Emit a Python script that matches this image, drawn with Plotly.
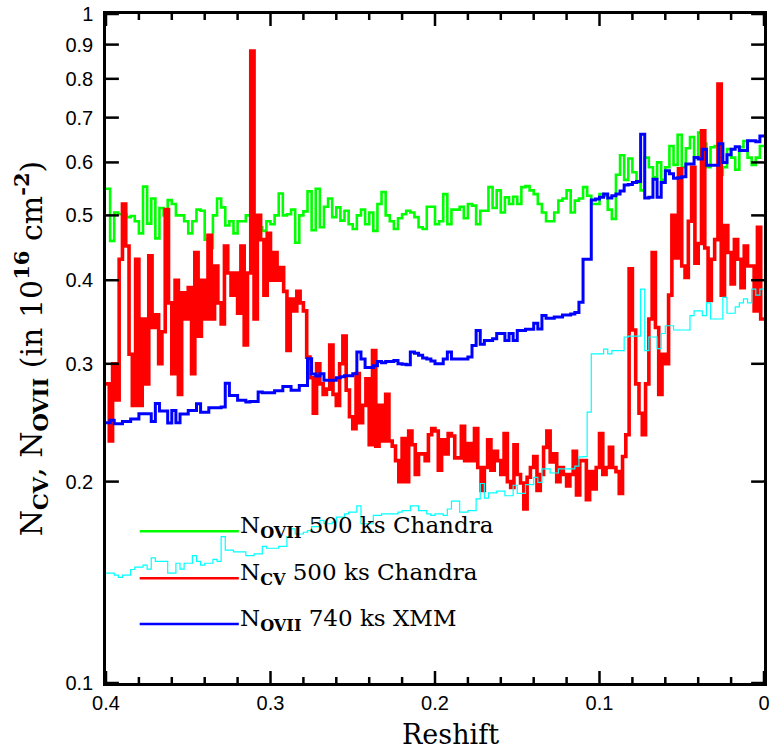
import math
import plotly.graph_objects as go

# ---------------- data (redshift bins run from z = 0.4 down to z = 0) ----------------
Z_START = 0.4
WIDTH_FINE = 0.002     # bin width of the N_CV Chandra series
WIDTH_STD = 0.0025     # bin width of the other series

# N_OVII, 500 ks Chandra (green)
n_ovii_chandra = [
    0.548, 0.458, 0.505, 0.502, 0.502, 0.497, 0.499, 0.49, 0.47, 0.552,
    0.486, 0.53, 0.462, 0.513, 0.50, 0.527, 0.52, 0.50, 0.50, 0.49,
    0.47, 0.49, 0.51, 0.508, 0.46, 0.447, 0.50, 0.53, 0.514, 0.483,
    0.49, 0.47, 0.49, 0.49, 0.50, 0.50, 0.48, 0.48, 0.474, 0.49,
    0.485, 0.50, 0.539, 0.50, 0.502, 0.51, 0.455, 0.50, 0.507, 0.543,
    0.475, 0.548, 0.48, 0.515, 0.53, 0.497, 0.514, 0.491, 0.508, 0.485,
    0.477, 0.50, 0.51, 0.485, 0.505, 0.474, 0.52, 0.542, 0.50, 0.49,
    0.477, 0.495, 0.502, 0.508, 0.505, 0.497, 0.48, 0.477, 0.515, 0.515,
    0.485, 0.49, 0.538, 0.485, 0.51, 0.51, 0.515, 0.495, 0.52, 0.517,
    0.485, 0.508, 0.508, 0.551, 0.513, 0.545, 0.505, 0.532, 0.52, 0.533,
    0.52, 0.551, 0.553, 0.545, 0.538, 0.52, 0.505, 0.49, 0.49, 0.505,
    0.526, 0.53, 0.545, 0.505, 0.526, 0.53, 0.551, 0.535, 0.52, 0.52,
    0.538, 0.535, 0.51, 0.494, 0.575, 0.615, 0.565, 0.608, 0.58, 0.56,
    0.545, 0.61, 0.59, 0.57, 0.60, 0.565, 0.59, 0.635, 0.595, 0.66,
    0.59, 0.63, 0.655, 0.61, 0.665, 0.64, 0.59, 0.632, 0.635, 0.575,
    0.59, 0.628, 0.61, 0.585, 0.632, 0.646, 0.61, 0.595, 0.61, 0.635,
]

# N_CV, 500 ks Chandra (red)
n_cv_chandra = [
    0.28, 0.23, 0.30, 0.265, 0.43, 0.52, 0.45, 0.31, 0.26, 0.43,
    0.26, 0.35, 0.28, 0.435, 0.34, 0.355, 0.30, 0.335, 0.51, 0.37,
    0.29, 0.40, 0.27, 0.383, 0.35, 0.39, 0.29, 0.44, 0.33, 0.40,
    0.35, 0.467, 0.35, 0.42, 0.37, 0.344, 0.45, 0.41, 0.38, 0.41,
    0.357, 0.45, 0.32, 0.41, 0.88, 0.35, 0.50, 0.46, 0.38, 0.47,
    0.40, 0.44, 0.40, 0.418, 0.385, 0.314, 0.375, 0.36, 0.385, 0.37,
    0.36, 0.307, 0.286, 0.253, 0.30, 0.28, 0.27, 0.275, 0.32, 0.27,
    0.26, 0.30, 0.33, 0.274, 0.25, 0.24, 0.29, 0.245, 0.26, 0.285,
    0.227, 0.314, 0.226, 0.26, 0.23, 0.27, 0.23, 0.226, 0.215, 0.20,
    0.232, 0.20, 0.238, 0.227, 0.205, 0.22, 0.22, 0.215, 0.235, 0.24,
    0.238, 0.208, 0.231, 0.22, 0.236, 0.234, 0.217, 0.217, 0.242, 0.215,
    0.228, 0.215, 0.24, 0.21, 0.194, 0.21, 0.231, 0.208, 0.222, 0.215,
    0.205, 0.236, 0.20, 0.196, 0.227, 0.205, 0.199, 0.182, 0.203, 0.21,
    0.218, 0.194, 0.205, 0.225, 0.238, 0.214, 0.22, 0.20, 0.21, 0.205,
    0.197, 0.205, 0.222, 0.191, 0.215, 0.215, 0.188, 0.207, 0.195, 0.21,
    0.236, 0.205, 0.21, 0.225, 0.21, 0.207, 0.192, 0.218, 0.235, 0.416,
    0.337, 0.28, 0.253, 0.235, 0.28, 0.35, 0.44, 0.34, 0.27, 0.31,
    0.30, 0.38, 0.50, 0.432, 0.587, 0.42, 0.404, 0.49, 0.59, 0.424,
    0.454, 0.669, 0.447, 0.373, 0.43, 0.46, 0.786, 0.38, 0.483, 0.44,
    0.395, 0.46, 0.43, 0.39, 0.45, 0.42, 0.42, 0.36, 0.48, 0.35,
]

# N_OVII, 740 ks XMM (blue)
n_ovii_xmm = [
    0.245, 0.247, 0.244, 0.244, 0.246, 0.246, 0.248, 0.248, 0.2526, 0.2526,
    0.2526, 0.246, 0.2616, 0.255, 0.255, 0.2446, 0.2555, 0.245, 0.2525, 0.2525,
    0.2555, 0.2555, 0.2615, 0.254, 0.254, 0.258, 0.258, 0.258, 0.2585, 0.2807,
    0.269, 0.269, 0.2647, 0.2647, 0.263, 0.2635, 0.2635, 0.2722, 0.2715, 0.2715,
    0.2715, 0.2735, 0.2735, 0.2775, 0.2775, 0.274, 0.274, 0.2785, 0.2785, 0.3052,
    0.2896, 0.2876, 0.29, 0.2834, 0.2834, 0.2834, 0.286, 0.287, 0.288, 0.288,
    0.29, 0.3124, 0.305, 0.2963, 0.2963, 0.298, 0.3024, 0.301, 0.3024, 0.3024,
    0.3035, 0.300, 0.2995, 0.299, 0.3124, 0.311, 0.309, 0.306, 0.3051, 0.303,
    0.300, 0.300, 0.305, 0.3124, 0.3051, 0.3051, 0.3051, 0.3051, 0.307, 0.3196,
    0.3365, 0.321, 0.325, 0.325, 0.327, 0.333, 0.333, 0.325, 0.333, 0.325,
    0.3365, 0.3365, 0.338, 0.338, 0.3448, 0.3383, 0.3544, 0.351, 0.351, 0.3525,
    0.3525, 0.355, 0.355, 0.356, 0.358, 0.3708, 0.43, 0.43, 0.527, 0.529,
    0.532, 0.538, 0.531, 0.535, 0.538, 0.544, 0.555, 0.556, 0.56, 0.562,
    0.661, 0.531, 0.532, 0.566, 0.532, 0.56, 0.583, 0.577, 0.568, 0.569,
    0.571, 0.5965, 0.5965, 0.610, 0.607, 0.628, 0.594, 0.594, 0.594, 0.640,
    0.60, 0.616, 0.628, 0.633, 0.625, 0.625, 0.6463, 0.6463, 0.644, 0.657,
]

# unlabelled cyan series
cyan_series = [
    0.146, 0.146, 0.145, 0.1438, 0.145, 0.145, 0.1478, 0.149, 0.149, 0.150,
    0.148, 0.1538, 0.152, 0.152, 0.152, 0.146, 0.146, 0.151, 0.148, 0.151,
    0.151, 0.155, 0.152, 0.150, 0.151, 0.151, 0.153, 0.152, 0.1655, 0.158,
    0.158, 0.157, 0.157, 0.157, 0.155, 0.155, 0.156, 0.156, 0.160, 0.159,
    0.159, 0.159, 0.160, 0.160, 0.1655, 0.170, 0.167, 0.167, 0.168, 0.169,
    0.1713, 0.1713, 0.175, 0.173, 0.173, 0.174, 0.177, 0.177, 0.179, 0.180,
    0.180, 0.184, 0.173, 0.173, 0.173, 0.178, 0.178, 0.179, 0.179, 0.179,
    0.179, 0.180, 0.181, 0.181, 0.184, 0.184, 0.181, 0.181, 0.179, 0.178,
    0.179, 0.179, 0.178, 0.182, 0.187, 0.187, 0.180, 0.180, 0.181, 0.181,
    0.1885, 0.1987, 0.189, 0.1924, 0.1924, 0.1935, 0.1935, 0.1905, 0.1905, 0.1975,
    0.192, 0.192, 0.198, 0.198, 0.203, 0.1995, 0.209, 0.209, 0.206, 0.206,
    0.209, 0.209, 0.209, 0.209, 0.211, 0.2177, 0.218, 0.2541, 0.3105, 0.3105,
    0.3105, 0.3155, 0.3105, 0.314, 0.314, 0.314, 0.329, 0.33, 0.33, 0.33,
    0.388, 0.314, 0.329, 0.329, 0.316, 0.333, 0.342, 0.342, 0.337, 0.337,
    0.337, 0.337, 0.354, 0.36, 0.36, 0.354, 0.37, 0.35, 0.35, 0.35,
    0.377, 0.357, 0.357, 0.365, 0.37, 0.375, 0.37, 0.388, 0.38, 0.388,
]

x_tick_vals = [0.4, 0.3, 0.2, 0.1, 0.0]
x_tick_text = ["0.4", "0.3", "0.2", "0.1", "0"]
x_minor_vals = [0.38, 0.36, 0.34, 0.32, 0.28, 0.26, 0.24, 0.22, 0.18, 0.16,
                0.14, 0.12, 0.08, 0.06, 0.04, 0.02]
y_tick_vals = [0.1, 0.2, 0.3, 0.4, 0.5, 0.6, 0.7, 0.8, 0.9, 1.0]
y_tick_text = ["0.1", "0.2", "0.3", "0.4", "0.5", "0.6", "0.7", "0.8", "0.9", "1"]

legend_labels = [
    ("N", "OVII", " 500 ks Chandra", "#00ff00"),
    ("N", "CV", " 500 ks Chandra", "#ff0000"),
    ("N", "OVII", " 740 ks XMM", "#0000ff"),
]

X_RANGE = [0.4, 0.0]
Y_LOG_RANGE = [-1.0, 0.0]


def step_xy(values, width):
    """Histogram-style step: bin left edges from z=0.4 downward plus final edge."""
    n = len(values)
    xs = [round(Z_START - width * i, 6) for i in range(n + 1)]
    ys = list(values) + [values[-1]]
    return xs, ys


SERIF = "DejaVu Serif"
SANS = "Liberation Sans"

# ---------- geometry of the plotting frame (pixels) ----------
W, H = 773, 750
L, R, T, B = 106, 3, 13, 67
pw, ph = W - L - R, H - T - B

fig = go.Figure()

for vals, width, color, lw in [
    (n_ovii_chandra, WIDTH_STD, "#00ff00", 2.6),
    (n_cv_chandra, WIDTH_FINE, "#ff0000", 3.6),
    (n_ovii_xmm, WIDTH_STD, "#0000ff", 3.0),
    (cyan_series, WIDTH_STD, "#00ffff", 1.2),
]:
    xs, ys = step_xy(vals, width)
    fig.add_trace(go.Scatter(x=xs, y=ys, mode="lines",
                             line=dict(color=color, width=lw, shape="hv"),
                             showlegend=False, hoverinfo="skip"))

# ---------- tick marks on all four sides, drawn through the axis scales ----------
TICK_MAJOR_X, TICK_MINOR_X, TICK_Y = 12, 6, 13
x_span = X_RANGE[0] - X_RANGE[1]
y_lo, y_hi = 10 ** Y_LOG_RANGE[0], 10 ** Y_LOG_RANGE[1]
tick_x, tick_y = [], []
for vals, length in [(x_tick_vals, TICK_MAJOR_X), (x_minor_vals, TICK_MINOR_X)]:
    f = 10 ** (length / ph * (Y_LOG_RANGE[1] - Y_LOG_RANGE[0]))
    for v in vals:
        tick_x += [v, v, None, v, v, None]
        tick_y += [y_lo, y_lo * f, None, y_hi, y_hi / f, None]
dx = TICK_Y / pw * x_span
for v in y_tick_vals:
    tick_x += [X_RANGE[0], X_RANGE[0] - dx, None, X_RANGE[1], X_RANGE[1] + dx, None]
    tick_y += [v, v, None, v, v, None]
fig.add_trace(go.Scatter(x=tick_x, y=tick_y, mode="lines", connectgaps=False,
                         line=dict(color="black", width=2.5),
                         showlegend=False, hoverinfo="skip", cliponaxis=False))


def px_to_paper_x(px):
    return (px - L) / pw


def px_to_paper_y(py):
    return (H - B - py) / ph


def sub(t):
    return "<sub><b>%s</b></sub>" % t


def sup(t):
    return "<sup><b>%s</b></sup>" % t


annotations = []
shapes = []
legend_rows_px = [531, 578, 624]
for (n, s, rest, color), ypx in zip(legend_labels, legend_rows_px):
    shapes.append(dict(type="line", xref="paper", yref="paper",
                       x0=px_to_paper_x(140), x1=px_to_paper_x(240),
                       y0=px_to_paper_y(ypx), y1=px_to_paper_y(ypx),
                       line=dict(color=color, width=2.5)))
    annotations.append(dict(xref="paper", yref="paper",
                            x=px_to_paper_x(239), y=px_to_paper_y(ypx - 4),
                            xanchor="left", yanchor="middle", showarrow=False,
                            text=n + sub(s) + rest,
                            font=dict(family=SERIF, size=23, color="black")))

annotations.append(dict(xref="paper", yref="paper",
                        x=px_to_paper_x(454), y=px_to_paper_y(735),
                        xanchor="center", yanchor="middle", showarrow=False,
                        text="Reshift", font=dict(family=SERIF, size=27, color="black")))
annotations.append(dict(xref="paper", yref="paper",
                        x=px_to_paper_x(30), y=px_to_paper_y(348),
                        xanchor="center", yanchor="middle", showarrow=False,
                        textangle=-90,
                        text="N" + sub("CV") + ", N" + sub("OVII") + " (in 10"
                             + sup("16") + " cm" + sup("-2") + ")",
                        font=dict(family=SERIF, size=30, color="black")))

fig.update_layout(
    width=W, height=H,
    margin=dict(l=L, r=R, t=T, b=B, pad=0),
    paper_bgcolor="white", plot_bgcolor="white",
    shapes=shapes, annotations=annotations,
    showlegend=False,
)

fig.update_xaxes(
    range=X_RANGE, showgrid=False, zeroline=False,
    showline=True, linecolor="black", linewidth=2.5, mirror=True,
    ticks="", tickvals=x_tick_vals, ticktext=x_tick_text,
    tickfont=dict(family=SANS, size=20, color="black"),
)
fig.update_yaxes(
    type="log", range=Y_LOG_RANGE, showgrid=False, zeroline=False,
    showline=True, linecolor="black", linewidth=2.5, mirror=True,
    ticks="outside", ticklen=6, tickcolor="rgba(0,0,0,0)",
    tickvals=y_tick_vals, ticktext=y_tick_text,
    tickfont=dict(family=SANS, size=20, color="black"),
)

fig.write_html("out.html")
